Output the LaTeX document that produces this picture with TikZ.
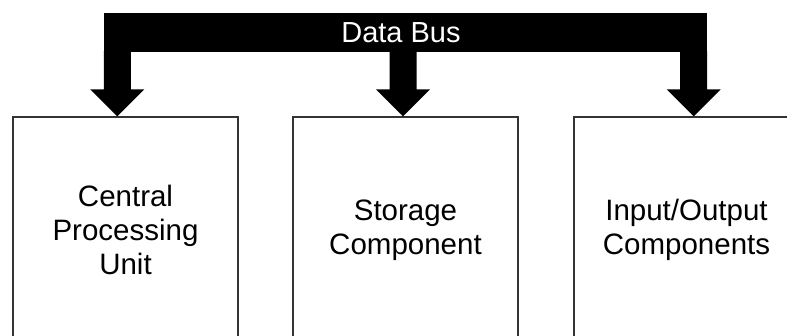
\documentclass[tikz,border=0pt]{standalone}
\usepackage{fontspec}
\setmainfont{Liberation Sans}
\usetikzlibrary{calc}
\tikzset{
  unitbox/.style={draw=black!80, line width=1.3pt, minimum width=225pt, minimum height=226pt,
    inner sep=0pt, align=center, font=\fontsize{29.5}{34}\selectfont},
  busbar/.style={fill=black, minimum width=603pt, minimum height=39pt, inner sep=0pt},
  buslab/.style={text=white, inner sep=0pt, font=\fontsize{29}{34}\selectfont},
  busfill/.style={fill=black}
}

\begin{document}
\begin{tikzpicture}[x=1pt,y=-1pt]
  \useasboundingbox (0,0) rectangle (787,336);
  \clip (0,0) rectangle (787,336);

  % the three units (they run off the bottom and right edge)
  \node[unitbox] (cpu) at (125.5,230) {Central\\Processing\\Unit};
  \node[unitbox] (storage) at (405.5,230) {Storage\\Component};
  \node[unitbox] (io) at (686.5,230) {Input/Output\\Components};

  % bus bar and its taps
  \node[busbar] (bus) at (405.5,32.5) {};
  \coordinate (tapcpu) at ($(bus.south west)+(13.5,-1)$);
  \coordinate (tapmem) at ($(bus.south)+(-2.5,-1)$);
  \coordinate (tapio) at ($(bus.south east)+(-13.5,-1)$);

  % block arrows down to the units
  \foreach \tap/\dest in {tapcpu/cpu,tapmem/storage,tapio/io}{
    \coordinate (tip) at (\tap |- \dest.north);
    \fill[busfill] ($(\tap)+(-13.5,0)$) -- ($(tip)+(-13.5,-27)$) -- ($(tip)+(-27,-27)$)
      -- (tip) -- ($(tip)+(27,-27)$) -- ($(tip)+(13.5,-27)$) -- ($(\tap)+(13.5,0)$) -- cycle;
  }

  \node[buslab] (buslabel) at (401,33) {Data Bus};
\end{tikzpicture}
\end{document}
